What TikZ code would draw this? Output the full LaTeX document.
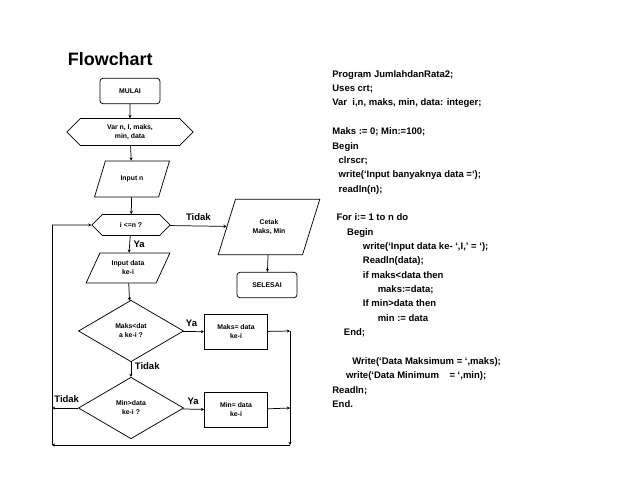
\documentclass[tikz,border=0pt]{standalone}
\usepackage{fontspec}
\setmainfont{Liberation Sans}
\usetikzlibrary{arrows.meta}
\usetikzlibrary{positioning}
\usetikzlibrary{shapes.geometric}
\usetikzlibrary{shapes.symbols}

\begin{document}
\begin{tikzpicture}[
    x=0.0333cm, y=-0.0333cm,
    line width=0.7pt,
    >={Stealth[length=3pt,width=3pt]},
    every node/.style={font=\bfseries\fontsize{6.5}{8.5}\selectfont},
    terminal/.style={rectangle, draw, rounded corners=3pt, align=center, minimum width=2cm, minimum height=0.85cm},
    declare/.style={signal, signal to=east and west, draw, align=center, minimum width=4.2cm, minimum height=0.9cm},
    io/.style={trapezium, trapezium left angle=65, trapezium right angle=115, trapezium stretches=true, draw, align=center},
    check/.style={diamond, draw, aspect=1.7, align=center, inner sep=0pt, minimum width=3.5cm, minimum height=2.05cm},
    process/.style={rectangle, draw, align=center, minimum width=2.1cm, minimum height=1.15cm},
    lbl/.style={font=\bfseries\fontsize{9}{10}\selectfont}
]
\useasboundingbox (0,0) rectangle (638,493);

% Title
\node[font=\bfseries\fontsize{17}{20}\selectfont, anchor=west] (title) at (64,59) {Flowchart};

% Nodes
\node[terminal] (mulai) at (130,91) {MULAI};
\node[declare] (var) at (130,132) {Var n, I, maks,\\min, data};
\node[io, minimum width=2.5cm, minimum height=1.2cm] (inputn) at (132,179) {Input n};
\node[declare, minimum width=2.6cm, minimum height=0.7cm] (cek) at (131,225) {i <=n ?};
\node[io, minimum width=3.4cm, minimum height=1.85cm] (cetak) at (269,227) {Cetak\\Maks, Min};
\node[terminal] (selesai) at (267,285) {SELESAI};
\node[io, minimum width=2.8cm, minimum height=1cm] (inputdata) at (128,268) {Input data\\ke-i};
\node[check] (maks) at (131,331) {Maks<dat\\a ke-i ?};
\node[process] (maksbox) at (236,332) {Maks= data\\ke-i};
\node[check] (min) at (131,408) {Min>data\\ke-i ?};
\node[process] (minbox) at (236,410) {Min= data\\ke-i};

\coordinate (r1) at (290,331);
\coordinate (r2) at (290,408);
\coordinate (rb) at (290,445);
\coordinate (lb) at (52,445);
\coordinate (lm) at (52,408);
\coordinate (lt) at (52,225);

% Edges
\draw[->] (mulai) -- (var);
\draw[->] (var) -- (inputn);
\draw[->] (inputn) -- (cek);
\draw[->] (cek) -- node[lbl, above=1pt]{Tidak} (cetak);
\draw[->] (cetak) -- (selesai);
\draw[->] (cek) -- node[lbl, right]{Ya} (inputdata);
\draw[->] (inputdata) -- (maks);
\draw[->] (maks) -- node[lbl, above=1pt, pos=0.4]{Ya} (maksbox);
\draw[->] (maks) -- node[lbl, right, pos=0.3]{Tidak} (min);
\draw[->] (min) -- node[lbl, above=1pt]{Ya} (minbox);
\draw[->] (min) -- node[lbl, above left=1pt and -12pt, pos=0.3]{Tidak} (lm);
\draw[->] (maksbox) -- (r1);
\draw[->] (minbox) -- (r2);
\draw (r1) -- (r2);
\draw[->] (r2) -- (rb);
\draw[->] (rb) -- (lb);
\draw (lb) -- (lt);
\draw[->] (lt) -- (cek);

% Program
\node[anchor=north west, align=left, inner sep=0pt, font=\bfseries\fontsize{9}{13.6}\selectfont] (prog) at (332,70) {%
Program JumlahdanRata2;\\
Uses crt;\\
Var\ \ i,n, maks, min, data: integer;\\[13.6pt]
Maks := 0; Min:=100;\\
Begin\\
\hspace*{6pt}clrscr;\\
\hspace*{6pt}write(‘Input banyaknya data =‘);\\
\hspace*{6pt}readln(n);\\[13.6pt]
\hspace*{4pt}For i:= 1 to n do\\
\hspace*{14pt}Begin\\
\hspace*{29pt}write(‘Input data ke- ‘,I,’ = ‘);\\
\hspace*{29pt}Readln(data);\\
\hspace*{29pt}if maks<data then\\
\hspace*{43pt}maks:=data;\\
\hspace*{29pt}If min>data then\\
\hspace*{43pt}min := data\\
\hspace*{11pt}End;\\[13.6pt]
\hspace*{19pt}Write(‘Data Maksimum = ‘,maks);\\
\hspace*{13pt}write(‘Data Minimum\ \ \ \ = ‘,min);\\
Readln;\\
End.};

\end{tikzpicture}
\end{document}
